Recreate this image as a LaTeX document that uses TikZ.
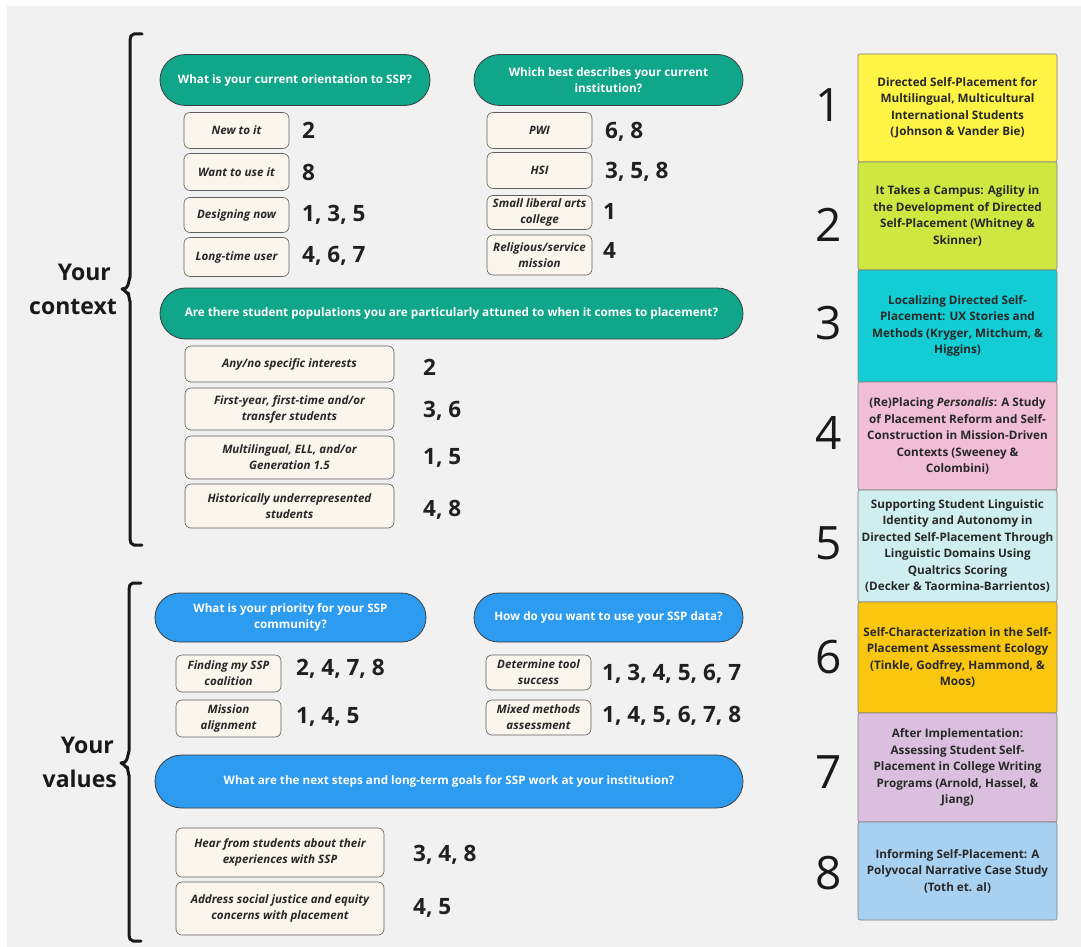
\documentclass[tikz,border=0pt]{standalone}
\usepackage{fontspec}
\setmainfont{Open Sans}
\usetikzlibrary{shapes.misc}
\definecolor{bgc}{RGB}{241,241,241}
\definecolor{teal}{RGB}{16,166,137}
\definecolor{sky}{RGB}{45,155,240}
\definecolor{cream}{RGB}{250,246,238}
\definecolor{edge}{RGB}{95,95,95}
\definecolor{ink}{RGB}{40,40,40}
\definecolor{rA}{RGB}{254,244,69}
\definecolor{rB}{RGB}{206,231,65}
\definecolor{rC}{RGB}{18,205,212}
\definecolor{rD}{RGB}{240,190,215}
\definecolor{rE}{RGB}{207,238,240}
\definecolor{rF}{RGB}{250,199,16}
\definecolor{rG}{RGB}{218,192,222}
\definecolor{rH}{RGB}{168,208,240}
\begin{document}
\begin{tikzpicture}[x=1pt,y=-1pt,
  pill/.style={rounded rectangle, draw=ink!90, line width=0.8pt, text=white, align=center,
    font=\fontsize{11.7}{16}\selectfont\bfseries, minimum height=51pt, inner sep=2pt},
  gpill/.style={pill, fill=teal},
  bpill/.style={pill, fill=sky},
  ans/.style={rectangle, rounded corners=6pt, draw=edge, line width=0.6pt, fill=cream, text=ink,
    align=center, font=\fontsize{11.6}{16}\selectfont\bfseries\itshape, inner sep=1pt},
  num/.style={anchor=west, text=ink!80!black, font=\fontsize{22.5}{26}\selectfont\bfseries, inner sep=0pt},
  refbox/.style={rectangle, rounded corners=2pt, draw=edge!80, line width=0.6pt, minimum width=199pt,
    text=ink, align=center, font=\fontsize{11.7}{16.5}\selectfont\bfseries, inner sep=0pt},
  bignum/.style={text=black!90, font=\fontsize{46}{50}\selectfont, inner sep=0pt},
  brace/.style={draw=black!90, line width=3pt, line cap=round, line join=round},
  side/.style={anchor=east, align=right, text=black!90, font=\fontsize{23}{34}\selectfont\bfseries, inner sep=0pt}
]
\useasboundingbox (0,0) rectangle (1081,947);
\fill[white] (0,0) rectangle (1081,947);
\fill[bgc] (7,6) rectangle (1081,947);

% braces
\coordinate (b1t) at (142,34);
\coordinate (b1b) at (142,545);
\draw[brace] (b1t) -- (134,34) to[out=180,in=90] (130,40) -- (130,277)
  to[out=270,in=90] (128,285) to[out=270,in=0] (122,289) to[out=0,in=270] (128,293)
  to[out=90,in=270] (130,301) -- (130,539) to[out=270,in=180] (134,545) -- (b1b);
\coordinate (b2t) at (141,583);
\coordinate (b2b) at (141,941);
\draw[brace] (b2t) -- (133,583) to[out=180,in=90] (129,589) -- (129,751)
  to[out=270,in=90] (127,759) to[out=270,in=0] (121,763) to[out=0,in=270] (127,767)
  to[out=90,in=270] (129,775) -- (129,935) to[out=270,in=180] (133,941) -- (b2b);

\node[side] (ctx) at (117,289) {Your\kern6pt\\context};
\node[side] (val) at (117,762) {Your\kern3pt\\values};

% context questions
\node[gpill, minimum width=274pt] (q1) at (295,80) {What is your current orientation to SSP?};
\node[gpill, minimum width=273pt] (q2) at (608.5,80) {Which best describes your current\\institution?};
\node[gpill, minimum width=587pt] (q3) at (451.5,313.5) {Are there student populations you are particularly attuned to when it comes to placement?};

\node[ans, minimum width=105pt, minimum height=36pt] (a11) at (236.5,130.5) {New to it};
\node[ans, minimum width=105pt, minimum height=37pt] (a12) at (236.5,172) {Want to use it};
\node[ans, minimum width=105pt, minimum height=35pt] (a13) at (236.5,215) {Designing now};
\node[ans, minimum width=105pt, minimum height=39pt] (a14) at (236.5,257) {Long-time user};
\node[num] (n11) at (302,130.5) {2};
\node[num] (n12) at (302,172) {8};
\node[num] (n13) at (302,215) {1, 3, 5};
\node[num] (n14) at (302,256) {4, 6, 7};

\node[ans, minimum width=105pt, minimum height=36pt] (a21) at (539.5,130.5) {PWI};
\node[ans, minimum width=105pt, minimum height=36pt] (a22) at (539.5,170.5) {HSI};
\node[ans, minimum width=105pt, minimum height=34pt] (a23) at (539.5,212.5) {Small liberal arts\\college};
\node[ans, minimum width=105pt, minimum height=40pt] (a24) at (539.5,255) {Religious/service\\mission};
\node[num] (n21) at (605,132) {6, 8};
\node[num] (n22) at (605,172) {3, 5, 8};
\node[num] (n23) at (603,211) {1};
\node[num] (n24) at (603,250) {4};

\node[ans, minimum width=209pt, minimum height=36pt] (a31) at (289.5,364) {Any/no specific interests};
\node[ans, minimum width=209pt, minimum height=42pt] (a32) at (289.5,409) {First-year, first-time and/or\\transfer students};
\node[ans, minimum width=209pt, minimum height=43pt] (a33) at (289.5,457.5) {Multilingual, ELL, and/or\\Generation 1.5};
\node[ans, minimum width=209pt, minimum height=44pt] (a34) at (289.5,506) {Historically underrepresented\\students};
\node[num] (n31) at (423,367) {2};
\node[num] (n32) at (423,411) {3, 6};
\node[num] (n33) at (423,458) {1, 5};
\node[num] (n34) at (423,510) {4, 8};

% values questions
\node[bpill, minimum width=275pt, minimum height=49pt] (v1) at (290.5,617.5) {What is your priority for your SSP\\community?};
\node[bpill, minimum width=273pt, minimum height=49pt] (v2) at (608.5,617.5) {How do you want to use your SSP data?};
\node[bpill, minimum width=592pt, minimum height=53pt] (v3) at (449,781.5) {What are the next steps and long-term goals for SSP work at your institution?};

\node[ans, minimum width=105pt, minimum height=37pt] (b11) at (228.5,673.5) {Finding my SSP\\coalition};
\node[ans, minimum width=105pt, minimum height=37pt] (b12) at (228.5,718.5) {Mission\\alignment};
\node[num] (m11) at (296,669) {2, 4, 7, 8};
\node[num] (m12) at (296,717) {1, 4, 5};

\node[ans, minimum width=105pt, minimum height=35pt] (b21) at (538.5,672.5) {Determine tool\\success};
\node[ans, minimum width=105pt, minimum height=35pt] (b22) at (538.5,717.5) {Mixed methods\\assessment};
\node[num] (m21) at (602,674) {1, 3, 4, 5, 6, 7};
\node[num] (m22) at (602,716) {1, 4, 5, 6, 7, 8};

\node[ans, minimum width=208pt, minimum height=49pt] (b31) at (280,852.5) {Hear from students about their\\experiences with SSP};
\node[ans, minimum width=208pt, minimum height=53pt] (b32) at (280,908.5) {Address social justice and equity\\concerns with placement};
\node[num] (m31) at (413,855) {3, 4, 8};
\node[num] (m32) at (413,908) {4, 5};

% references
\node[refbox, fill=rA, minimum height=108pt] (r1) at (957.5,108) {Directed Self-Placement for\\Multilingual, Multicultural\\International Students\\(Johnson \& Vander Bie)};
\node[refbox, fill=rB, minimum height=108pt] (r2) at (957.5,216) {It Takes a Campus: Agility in\\the Development of Directed\\Self-Placement (Whitney \&\\Skinner)};
\node[refbox, fill=rC, minimum height=112pt] (r3) at (957.5,326) {Localizing Directed Self-\\Placement: UX Stories and\\Methods (Kryger, Mitchum, \&\\Higgins)};
\node[refbox, fill=rD, minimum height=108pt] (r4) at (957.5,436) {(Re)Placing \textit{Personalis}: A Study\\of Placement Reform and Self-\\Construction in Mission-Driven\\Contexts (Sweeney \&\\Colombini)};
\node[refbox, fill=rE, minimum height=112pt] (r5) at (957.5,546) {Supporting Student Linguistic\\Identity and Autonomy in\\Directed Self-Placement Through\\Linguistic Domains Using\\Qualtrics Scoring\\(Decker \& Taormina-Barrientos)};
\node[refbox, fill=rF, minimum height=111pt] (r6) at (957.5,657.5) {Self-Characterization in the Self-\\Placement Assessment Ecology\\(Tinkle, Godfrey, Hammond, \&\\Moos)};
\node[refbox, fill=rG, minimum height=109pt] (r7) at (957.5,767.5) {After Implementation:\\Assessing Student Self-\\Placement in College Writing\\Programs (Arnold, Hassel, \&\\Jiang)};
\node[refbox, fill=rH, minimum height=98pt] (r8) at (957.5,871) {Informing Self-Placement: A\\Polyvocal Narrative Case Study\\(Toth et. al)};

\node[bignum] (k1) at (829,105) {1};
\node[bignum] (k2) at (829,225) {2};
\node[bignum] (k3) at (829,323) {3};
\node[bignum] (k4) at (829,433) {4};
\node[bignum] (k5) at (829,543) {5};
\node[bignum] (k6) at (829,657) {6};
\node[bignum] (k7) at (829,772) {7};
\node[bignum] (k8) at (829,873) {8};
\end{tikzpicture}
\end{document}
